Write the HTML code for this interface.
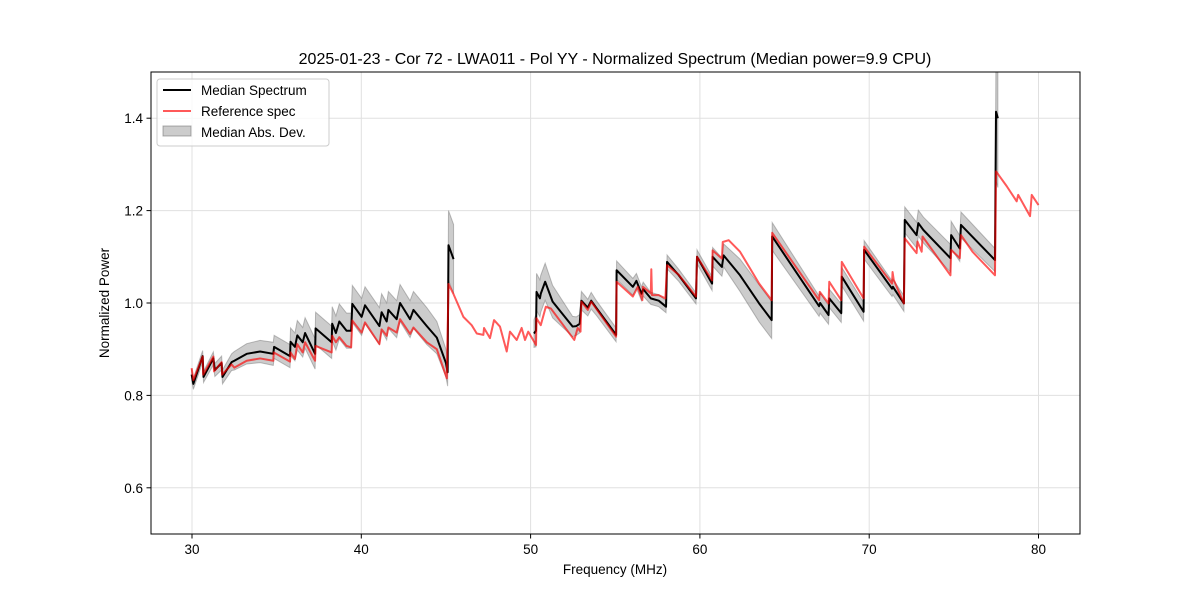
<!DOCTYPE html>
<html><head><meta charset="utf-8"><style>
html,body{margin:0;padding:0;background:#fff;}
svg text{font-family:"Liberation Sans","DejaVu Sans",sans-serif;fill:#000;}
</style></head><body>
<svg id="chart" width="1200" height="600" viewBox="0 0 1200 600" xmlns="http://www.w3.org/2000/svg">
<rect width="1200" height="600" fill="#fff"/>
<defs><clipPath id="pc"><rect x="151" y="72" width="929" height="462"/></clipPath></defs>
<g id="grid"></g>
<g id="plot" clip-path="url(#pc)"></g>
<rect x="151" y="72" width="929" height="462" fill="none" stroke="#000" stroke-width="1"/>
<g id="ticks"></g>
<text x="615" y="64" text-anchor="middle" font-size="16">2025-01-23 - Cor 72 - LWA011 - Pol YY - Normalized Spectrum (Median power=9.9 CPU)</text>
<text x="615" y="574" text-anchor="middle" font-size="13.5">Frequency (MHz)</text>
<text x="0" y="0" transform="translate(109,303) rotate(-90)" text-anchor="middle" font-size="13.5">Normalized Power</text>
<g>
<rect x="157" y="79" width="172" height="67" rx="3" fill="#fff" fill-opacity="0.8" stroke="#ccc"/>
<g><line x1="163" y1="90" x2="191" y2="90" stroke="#000" stroke-width="2"/><text x="201" y="95" font-size="13.5">Median Spectrum</text></g>
<g><line x1="163" y1="111" x2="191" y2="111" stroke="rgba(255,0,0,0.65)" stroke-width="2"/><text x="201" y="116" font-size="13.5">Reference spec</text></g>
<g><rect x="163" y="126" width="28" height="10" fill="rgba(128,128,128,0.4)" stroke="rgba(100,100,100,0.5)"/><text x="201" y="137" font-size="13.5">Median Abs. Dev.</text></g>
</g>
</svg>
<script>
const xTicks=[30,40,50,60,70,80];
const yTicks=[0.6,0.8,1.0,1.2,1.4];
const yTickLabels=["0.6","0.8","1.0","1.2","1.4"];
const refF=[29.98,30.08,30.63,30.66,31.26,31.3,31.75,31.78,32.34,32.5,33.23,34.02,34.8,34.83,35.79,35.82,36.08,36.22,36.54,36.68,37.27,37.3,38.25,38.28,38.5,38.7,39.13,39.4,39.47,40.02,40.22,41.07,41.2,41.5,41.6,42.09,42.29,42.88,43.08,43.87,44.46,45.05,45.15,45.45,46.03,46.52,46.82,47.21,47.25,47.6,47.84,48.19,48.59,48.78,49.18,49.47,49.67,49.86,50.32,50.35,50.6,50.9,51.2,52.58,52.78,52.95,53.0,53.38,53.58,53.87,55.05,55.08,56.04,56.33,56.6,56.63,57.1,57.13,57.17,57.57,57.96,58.06,58.75,59.77,59.83,60.72,60.75,61.3,61.35,61.7,62.37,63.5,64.24,64.27,67.04,67.08,67.6,67.64,68.35,68.38,69.67,69.7,70.07,71.35,71.38,71.45,72.05,72.1,72.8,72.85,73.1,73.15,74.8,74.84,75.35,75.42,76.1,77.43,77.49,78.12,78.71,78.8,79.5,79.6,80.0];
const refV=[0.859,0.833,0.884,0.845,0.884,0.852,0.872,0.845,0.867,0.86,0.875,0.88,0.875,0.893,0.873,0.893,0.879,0.911,0.893,0.915,0.875,0.907,0.893,0.929,0.915,0.926,0.907,0.904,0.962,0.936,0.958,0.911,0.943,0.929,0.947,0.936,0.965,0.933,0.947,0.915,0.9,0.837,1.041,1.019,0.97,0.952,0.934,0.931,0.946,0.924,0.963,0.949,0.895,0.938,0.92,0.946,0.92,0.938,0.909,0.967,0.952,0.992,0.988,0.92,0.946,0.938,1.003,0.985,1.003,0.988,0.927,1.046,1.014,1.035,1.006,1.035,1.021,1.073,1.017,1.017,1.01,1.082,1.061,1.014,1.1,1.049,1.114,1.096,1.132,1.136,1.111,1.042,1.006,1.152,1.006,1.024,0.999,1.046,1.006,1.089,1.01,1.122,1.104,1.042,1.067,1.05,0.999,1.14,1.108,1.133,1.111,1.144,1.06,1.115,1.097,1.147,1.111,1.06,1.285,1.253,1.22,1.234,1.188,1.234,1.212];
const medF=[29.98,30.08,30.63,30.68,31.26,31.35,31.75,31.8,32.34,32.5,33.23,34.02,34.8,34.85,35.79,35.82,36.08,36.22,36.54,36.68,37.27,37.3,38.25,38.28,38.5,38.7,39.13,39.4,39.47,40.02,40.22,41.07,41.2,41.5,41.6,42.09,42.29,42.88,43.08,43.87,44.46,45.0,45.1,45.15,45.45,null,50.2,50.32,50.35,50.55,50.6,50.86,51.3,52.48,52.7,52.9,53.0,53.38,53.58,53.87,55.05,55.08,56.04,56.25,56.55,56.65,57.1,57.57,58.0,58.06,58.75,59.77,59.83,60.72,60.75,61.3,61.4,62.37,63.5,64.24,64.27,67.04,67.1,67.6,67.64,68.35,68.38,69.67,69.7,71.35,71.4,72.05,72.1,72.8,72.9,73.2,74.8,74.84,75.35,75.42,77.43,77.49,77.6];
const medV=[0.845,0.825,0.885,0.84,0.88,0.855,0.87,0.84,0.872,0.875,0.89,0.895,0.89,0.905,0.885,0.916,0.905,0.93,0.915,0.935,0.89,0.945,0.915,0.955,0.935,0.96,0.94,0.94,0.998,0.97,0.995,0.95,0.98,0.96,0.985,0.965,1.0,0.965,0.985,0.95,0.925,0.87,0.85,1.125,1.095,null,0.934,0.94,1.024,1.01,1.02,1.046,1.003,0.949,0.95,0.955,1.005,0.99,1.005,0.99,0.931,1.071,1.035,1.048,1.02,1.03,1.01,1.005,0.992,1.089,1.06,1.01,1.1,1.042,1.1,1.078,1.103,1.06,0.999,0.963,1.144,0.993,1.0,0.974,1.01,0.978,1.057,0.981,1.115,1.031,1.035,0.999,1.18,1.147,1.173,1.158,1.097,1.147,1.118,1.169,1.093,1.414,1.4];
const madV=[0.012,0.012,0.012,0.012,0.014,0.014,0.015,0.015,0.018,0.02,0.022,0.024,0.025,0.025,0.025,0.03,0.03,0.032,0.032,0.033,0.033,0.035,0.035,0.037,0.037,0.038,0.038,0.038,0.04,0.04,0.04,0.04,0.04,0.04,0.04,0.04,0.04,0.04,0.04,0.04,0.035,0.03,0.03,0.075,0.075,null,0.03,0.035,0.04,0.04,0.04,0.04,0.035,0.022,0.02,0.02,0.02,0.018,0.018,0.016,0.015,0.02,0.018,0.016,0.015,0.015,0.013,0.013,0.013,0.015,0.013,0.012,0.015,0.015,0.02,0.02,0.025,0.035,0.04,0.04,0.03,0.022,0.022,0.02,0.02,0.02,0.02,0.02,0.02,0.017,0.017,0.017,0.028,0.028,0.028,0.028,0.03,0.03,0.028,0.028,0.025,0.15,0.15];
const X=f=>192+(f-30)*16.93;
const Y=v=>534-(v-0.5)*462;
const NS='http://www.w3.org/2000/svg';
const grid=document.getElementById('grid'),plot=document.getElementById('plot'),ticks=document.getElementById('ticks');
function mk(t,a,p){const e=document.createElementNS(NS,t);for(const k in a)e.setAttribute(k,a[k]);p.appendChild(e);return e;}
xTicks.forEach(t=>{const x=X(t);
const g=mk('line',{x1:x,x2:x,y1:72,y2:534,stroke:'#e0e0e0','stroke-width':1},grid);


const l=mk('line',{x1:x,x2:x,y1:534,y2:538.5,stroke:'#000'},ticks);


const tx=mk('text',{x:x,y:554,'text-anchor':'middle','font-size':13.5},ticks);tx.textContent=String(t);

});
yTicks.forEach((t,i)=>{const y=Y(t);
const g=mk('line',{x1:151,x2:1080,y1:y,y2:y,stroke:'#e0e0e0','stroke-width':1},grid);


const l=mk('line',{x1:146.5,x2:151,y1:y,y2:y,stroke:'#000'},ticks);


const tx=mk('text',{x:143,y:y+5,'text-anchor':'end','font-size':13.5},ticks);tx.textContent=yTickLabels[i];

});
// segments of median
const segs=[];let cur=[];
medF.forEach((f,i)=>{if(f===null){if(cur.length)segs.push(cur);cur=[];}else cur.push(i);});
if(cur.length)segs.push(cur);
segs.forEach(s=>{
const up=s.map(i=>X(medF[i])+','+Y(medV[i]+madV[i]));
const dn=s.slice().reverse().map(i=>X(medF[i])+','+Y(medV[i]-madV[i]));
const b=mk('polygon',{points:up.concat(dn).join(' '),fill:'rgba(128,128,128,0.4)',stroke:'rgba(110,110,110,0.45)','stroke-width':1},plot);

});
segs.forEach(s=>{
const p=mk('polyline',{points:s.map(i=>X(medF[i])+','+Y(medV[i])).join(' '),fill:'none',stroke:'#000','stroke-width':2,'stroke-linejoin':'round'},plot);

});
const r=mk('polyline',{points:refF.map((f,i)=>X(f)+','+Y(refV[i])).join(' '),fill:'none',stroke:'rgba(255,0,0,0.65)','stroke-width':2,'stroke-linejoin':'round'},plot);


</script>
</body></html>
